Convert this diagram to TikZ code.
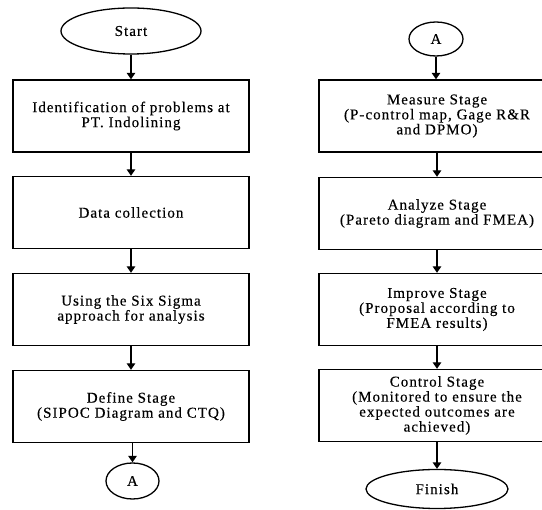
\documentclass[tikz,border=0pt]{standalone}
\usepackage{fontspec}
\setmainfont{Liberation Serif}[LetterSpace=7,FakeBold=0.3]
\usetikzlibrary{shapes.geometric,arrows.meta}
\begin{document}
\begin{tikzpicture}[x=1pt,y=-1pt,
  every node/.style={font=\fontsize{15}{15}\selectfont},
  box/.style={draw, line width=1.4pt, minimum width=236pt, minimum height=72pt, align=center, inner sep=0pt},
  term/.style={draw, ellipse, line width=1.3pt, inner sep=0pt},
  flow/.style={line width=1.4pt, -{Triangle[length=6.5pt,width=8.5pt]}}]
\useasboundingbox (0,0) rectangle (542,510);
% left column
\node[term, minimum width=140pt, minimum height=46pt] (start) at (131,31) {Start};
\node[box] (b1) at (131,116) {Identification of problems at\\PT. Indolining};
\node[box] (b2) at (131,212.5) {Data collection};
\node[box] (b3) at (131,309.5) {Using the Six Sigma\\approach for analysis};
\node[box] (b4) at (131,406.5) {Define Stage\\(SIPOC Diagram and CTQ)};
\node[term, minimum width=53pt, minimum height=36pt] (a1) at (132.5,481) {A};
% right column
\node[term, minimum width=54pt, minimum height=34pt] (a2) at (436,39) {A};
\node[box] (r1) at (437,116) {Measure Stage\\(P-control map, Gage R\&R\\and DPMO)};
\node[box] (r2) at (437,213.5) {Analyze Stage\\(Pareto diagram and FMEA)};
\node[box] (r3) at (437,309.5) {Improve Stage\\(Proposal according to\\FMEA results)};
\node[box] (r4) at (437,405.5) {Control Stage\\(Monitored to ensure the\\expected outcomes are\\achieved)};
\node[term, minimum width=142pt, minimum height=39pt] (fin) at (437,489) {Finish};
% connectors
\draw[flow] (start) -- (b1);
\draw[flow] (b1) -- (b2);
\draw[flow] (b2) -- (b3);
\draw[flow] (b3) -- (b4);
\draw[flow] (b4.south -| a1) -- (a1);
\draw[flow] (a2) -- (a2 |- r1.north);
\draw[flow] (r1) -- (r2);
\draw[flow] (r2) -- (r3);
\draw[flow] (r3) -- (r4);
\draw[flow] (r4) -- (fin);
\end{tikzpicture}
\end{document}
